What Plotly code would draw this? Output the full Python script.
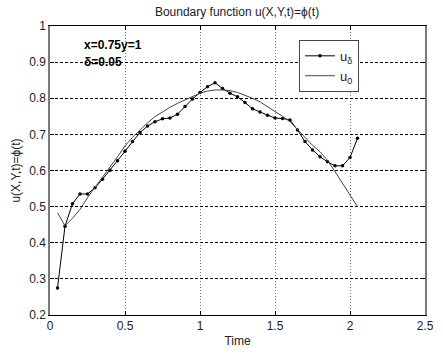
import plotly.graph_objects as go

t = [0.05, 0.10, 0.15, 0.20, 0.25, 0.30, 0.35, 0.40, 0.45, 0.50,
     0.55, 0.60, 0.65, 0.70, 0.75, 0.80, 0.85, 0.90, 0.95, 1.00,
     1.05, 1.10, 1.15, 1.20, 1.25, 1.30, 1.35, 1.40, 1.45, 1.50,
     1.55, 1.60, 1.65, 1.70, 1.75, 1.80, 1.85, 1.90, 1.95, 2.00, 2.05]

u_delta = [0.275, 0.446, 0.508, 0.535, 0.535, 0.552, 0.576, 0.601, 0.627, 0.653,
           0.680, 0.705, 0.723, 0.735, 0.743, 0.745, 0.756, 0.777, 0.798, 0.816,
           0.832, 0.843, 0.827, 0.814, 0.804, 0.788, 0.771, 0.762, 0.753, 0.745,
           0.744, 0.740, 0.712, 0.680, 0.657, 0.638, 0.624, 0.613, 0.613, 0.636, 0.689]

u_0 = [0.483, 0.447, 0.468, 0.492, 0.525, 0.553, 0.580, 0.609, 0.638, 0.668,
       0.692, 0.712, 0.732, 0.749, 0.763, 0.775, 0.786, 0.796, 0.806, 0.814,
       0.820, 0.823, 0.823, 0.821, 0.816, 0.809, 0.800, 0.790, 0.777, 0.763,
       0.750, 0.735, 0.713, 0.689, 0.670, 0.652, 0.628, 0.597, 0.565, 0.532, 0.500]

x_ticks = [0, 0.5, 1, 1.5, 2, 2.5]
x_tick_labels = ["0", "0.5", "1", "1.5", "2", "2.5"]
y_ticks = [0.2, 0.3, 0.4, 0.5, 0.6, 0.7, 0.8, 0.9, 1.0]
y_tick_labels = ["0.2", "0.3", "0.4", "0.5", "0.6", "0.7", "0.8", "0.9", "1"]

FONT = "Liberation Sans, Arial, sans-serif"

fig = go.Figure()
fig.add_trace(go.Scatter(
    x=t, y=u_delta, mode="lines+markers", name="u<sub>δ</sub>",
    line=dict(color="black", width=1),
    marker=dict(symbol="circle", size=3.5, color="black"),
))
fig.add_trace(go.Scatter(
    x=t, y=u_0, mode="lines", name="u<sub>0</sub>",
    line=dict(color="#444444", width=1),
))

fig.update_layout(
    width=443, height=354,
    margin=dict(l=50, r=18, t=26, b=39, autoexpand=False),
    paper_bgcolor="white", plot_bgcolor="white",
    font=dict(family=FONT, size=12, color="#222222"),
    title=dict(text="Boundary function u(X,Y,t)=ϕ(t)", x=0.535, xanchor="center",
               y=0.967, yanchor="middle", font=dict(size=12, family=FONT)),
    xaxis=dict(
        range=[0, 2.5], tickvals=x_ticks, ticktext=x_tick_labels,
        showgrid=True, gridcolor="#777777", griddash="1px,2px", gridwidth=1.3,
        showline=True, linecolor="black", linewidth=1, mirror="ticks",
        ticks="inside", ticklen=4, tickcolor="black", zeroline=False,
        automargin=False,
        title=dict(text="Time", standoff=4, font=dict(size=12)),
        tickfont=dict(size=12),
    ),
    yaxis=dict(
        range=[0.2, 1.0], tickvals=y_ticks, ticktext=y_tick_labels,
        showgrid=True, gridcolor="black", griddash="3px,2px", gridwidth=1,
        showline=True, linecolor="#7a7a7a", linewidth=1.5, mirror="ticks",
        ticks="inside", ticklen=4, tickcolor="black", zeroline=False,
        automargin=False,
        title=dict(text="u(X,Y,t)=ϕ(t)", standoff=6, font=dict(size=12)),
        tickfont=dict(size=12),
    ),
    legend=dict(
        x=0.664, y=0.952, xanchor="left", yanchor="top",
        bordercolor="#444444", borderwidth=1, bgcolor="white",
        font=dict(size=13, family=FONT),
        tracegroupgap=2,
    ),
    annotations=[
        dict(text="<b>x=0.75y=1</b>", x=0.085, y=0.934, xref="paper", yref="paper",
             xanchor="left", yanchor="middle", showarrow=False,
             font=dict(size=12, family=FONT, color="black")),
        dict(text="<b>δ=0.05</b>", x=0.085, y=0.875, xref="paper", yref="paper",
             xanchor="left", yanchor="middle", showarrow=False,
             font=dict(size=12, family=FONT, color="black")),
    ],
)

fig.write_html("out.html", config={"displayModeBar": False},
               post_script="document.body.style.margin='0';document.documentElement.style.overflow='hidden';")
